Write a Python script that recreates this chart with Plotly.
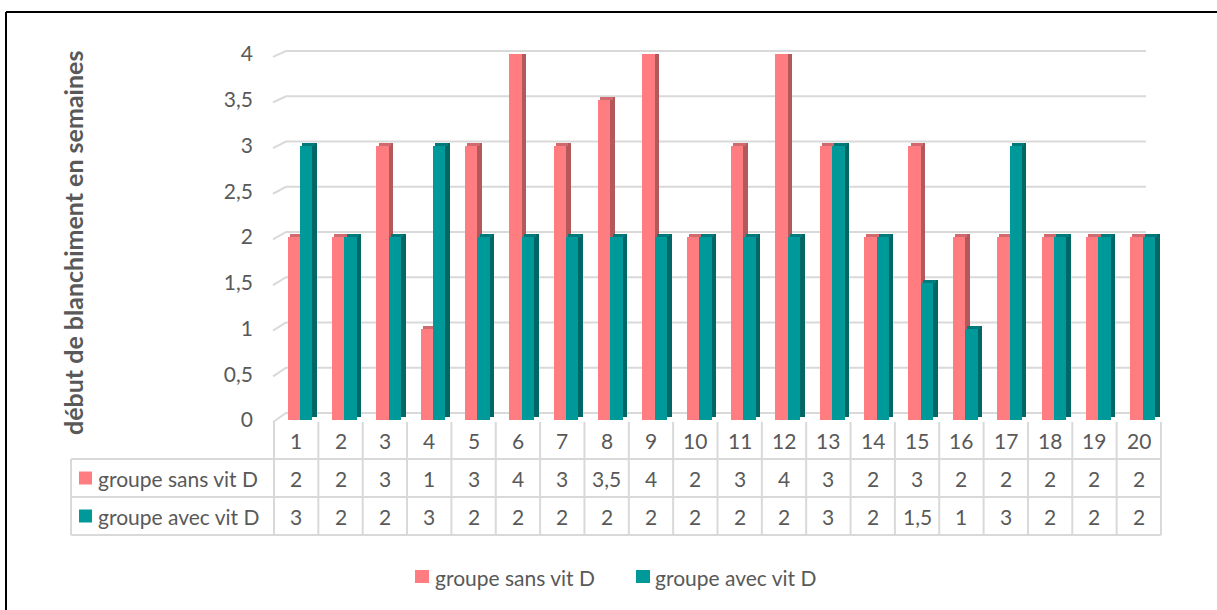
import plotly.graph_objects as go

# ---- data -------------------------------------------------------------
categories = [str(i) for i in range(1, 21)]
sans_vit_d = [2, 2, 3, 1, 3, 4, 3, 3.5, 4, 2, 3, 4, 3, 2, 3, 2, 2, 2, 2, 2]
avec_vit_d = [3, 2, 2, 3, 2, 2, 2, 2, 2, 2, 2, 2, 3, 2, 1.5, 1, 3, 2, 2, 2]
series_names = ["groupe sans vit D", "groupe avec vit D"]
y_tick_values = [0, 0.5, 1, 1.5, 2, 2.5, 3, 3.5, 4]
y_tick_labels = ["0", "0,5", "1", "1,5", "2", "2,5", "3", "3,5", "4"]
y_title = "début de blanchiment en semaines"

# ---- styling ----------------------------------------------------------
W, H = 1217, 610
FONT = "Lato"
TXT = "#595959"
GRID = "#d9d9d9"
PINK = {"front": "#FF7C80", "side": "#B3585B", "top": "#D06A6E"}
TEAL = {"front": "#009999", "side": "#006666", "top": "#007A7A"}

X0, X1 = 274, 1161          # table / category band in pixels
Y_ZERO, Y_TOP = 420, 54     # bar front-face scale (value 0 and 4)
n = len(categories)
col_w = (X1 - X0) / n
unit_px = (Y_ZERO - Y_TOP) / 4.0

BAR_W = 12.4 / col_w
DX = 4.5 / col_w            # depth shift (x units)
DY = 3.0 / unit_px          # depth shift (y units)
OFFSETS = [-8.6 / col_w, -8.6 / col_w + BAR_W]


def px(x):
    return x / W


def py(y):
    return 1 - y / H


def fmt(v):
    return str(int(v)) if float(v).is_integer() else str(v).replace(".", ",")


fig = go.Figure()
idx = list(range(n))

for vals, off, col, name in zip([sans_vit_d, avec_vit_d], OFFSETS, [PINK, TEAL], series_names):
    # front face
    fig.add_trace(go.Bar(x=idx, y=vals, width=BAR_W, offset=off, base=0,
                         marker=dict(color=col["front"], line=dict(width=0)),
                         name=name, showlegend=False, hoverinfo="y"))
    # right side face
    fig.add_trace(go.Bar(x=idx, y=vals, width=DX, offset=off + BAR_W, base=DY,
                         marker=dict(color=col["side"], line=dict(width=0)),
                         showlegend=False, hoverinfo="skip"))
    # top face
    fig.add_trace(go.Bar(x=idx, y=[DY] * n, width=BAR_W, offset=off + DX * 0.5, base=vals,
                         marker=dict(color=col["top"], line=dict(width=0)),
                         showlegend=False, hoverinfo="skip"))

shapes = []
# gridlines on the back wall with the slanted side-wall segment
for v in y_tick_values:
    y_left = 422 - 91.3 * v
    y_back = 413 - 90.5 * v
    x_end = 1160 if v == 0 else 1146
    shapes.append(dict(type="path", xref="paper", yref="paper", layer="below",
                       path=f"M {px(273)},{py(y_left)} L {px(286)},{py(y_back)} L {px(x_end)},{py(y_back)}",
                       line=dict(color=GRID, width=2)))

# data table grid
ROW_TOP, ROW_MID, ROW_BOT = 459, 497, 535
for yy in (ROW_TOP, ROW_MID, ROW_BOT):
    shapes.append(dict(type="line", xref="paper", yref="paper",
                       x0=px(71), x1=px(X1), y0=py(yy), y1=py(yy),
                       line=dict(color=GRID, width=2)))
shapes.append(dict(type="line", xref="paper", yref="paper",
                   x0=px(71), x1=px(71), y0=py(ROW_TOP), y1=py(ROW_BOT),
                   line=dict(color=GRID, width=2)))
for k in range(n + 1):
    xk = X0 + col_w * k
    shapes.append(dict(type="line", xref="paper", yref="paper",
                       x0=px(xk), x1=px(xk), y0=py(422), y1=py(ROW_BOT),
                       line=dict(color=GRID, width=2)))

# outer frame (left and top edges)
shapes.append(dict(type="line", xref="paper", yref="paper", x0=px(6), x1=px(6),
                   y0=py(12), y1=0, line=dict(color="#000000", width=2)))
shapes.append(dict(type="line", xref="paper", yref="paper", x0=px(6), x1=1,
                   y0=py(12), y1=py(12), line=dict(color="#000000", width=2)))

annotations = []
font = dict(family=FONT, size=21, color=TXT)

# table contents
row_centers = [478, 516]
for i, c in enumerate(categories):
    annotations.append(dict(x=i, xref="x", y=py(440), yref="paper", text=c,
                            showarrow=False, font=font, xanchor="center", yanchor="middle"))
    for vals, yc in zip([sans_vit_d, avec_vit_d], row_centers):
        annotations.append(dict(x=i, xref="x", y=py(yc), yref="paper", text=fmt(vals[i]),
                                showarrow=False, font=font, xanchor="center", yanchor="middle"))

for name, col, yc in zip(series_names, [PINK, TEAL], row_centers):
    shapes.append(dict(type="rect", xref="paper", yref="paper", x0=px(79), x1=px(92),
                       y0=py(yc - 6.5), y1=py(yc + 6.5), fillcolor=col["front"],
                       line=dict(width=0)))
    annotations.append(dict(x=px(96), xref="paper", y=py(yc), yref="paper", text=name,
                            showarrow=False, font=font, xanchor="left", yanchor="middle"))

# legend below the chart
legend_items = [(415, 433), (636, 653)]
for (sq_x, tx), name, col in zip(legend_items, series_names, [PINK, TEAL]):
    shapes.append(dict(type="rect", xref="paper", yref="paper", x0=px(sq_x), x1=px(sq_x + 14),
                       y0=py(570), y1=py(583), fillcolor=col["front"], line=dict(width=0)))
    annotations.append(dict(x=px(tx), xref="paper", y=py(577), yref="paper", text=name,
                            showarrow=False, font=font, xanchor="left", yanchor="middle"))

# y-axis title
annotations.append(dict(x=px(73), xref="paper", y=py(243), yref="paper", text=f"<b>{y_title}</b>",
                        textangle=-90, showarrow=False,
                        font=dict(family=FONT, size=25, color=TXT),
                        xanchor="center", yanchor="middle"))

fig.update_layout(
    template="none",
    width=W, height=H,
    margin=dict(l=0, r=0, t=0, b=0, pad=0, autoexpand=False),
    paper_bgcolor="white", plot_bgcolor="rgba(0,0,0,0)",
    barmode="overlay", bargap=0,
    showlegend=False,
    font=font,
    xaxis=dict(domain=[px(X0), px(X1)], range=[-0.5, n - 0.5], automargin=False,
               showgrid=False, zeroline=False, showline=False,
               showticklabels=False, ticks="", fixedrange=True),
    yaxis=dict(domain=[py(Y_ZERO), py(Y_TOP)], range=[0, 4], automargin=False,
               tickvals=y_tick_values, ticktext=y_tick_labels,
               showgrid=False, zeroline=False, showline=False, ticks="",
               ticklabelstandoff=20, tickfont=font, fixedrange=True),
    shapes=shapes,
    annotations=annotations,
)

fig.write_html("out.html",
               post_script="document.body.style.margin='0';document.body.style.overflow='hidden';")
